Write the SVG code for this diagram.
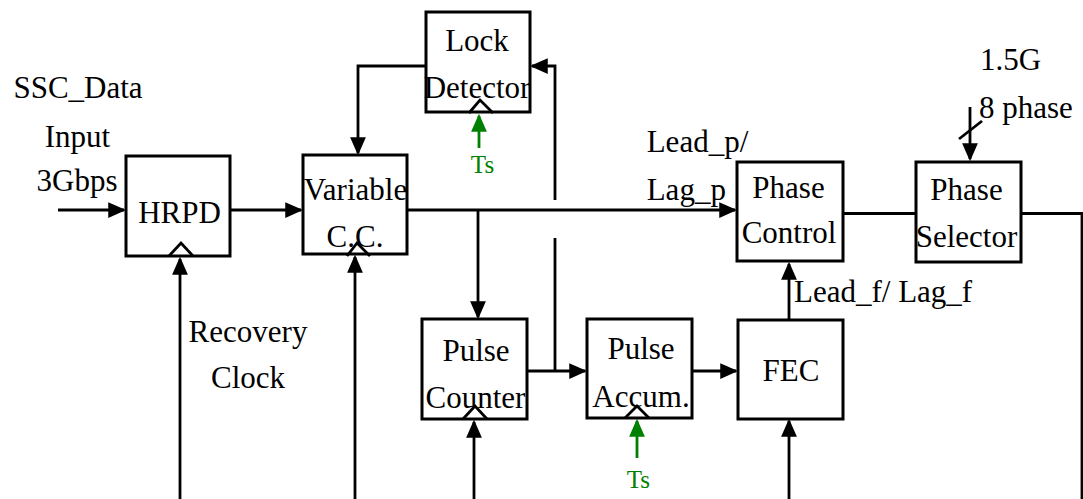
<svg xmlns="http://www.w3.org/2000/svg" width="1083" height="499" viewBox="0 0 1083 499">
<style>
.box{fill:#fff;stroke:#000;stroke-width:3}
.lb{font-family:'Liberation Serif','Times New Roman',serif;font-size:31px;fill:#000}
.mid{text-anchor:middle}
.ts{font-family:'Liberation Serif','Times New Roman',serif;font-size:25px;fill:#008000;text-anchor:middle}
.ln{fill:none;stroke:#000;stroke-width:2.8}
.gl{fill:none;stroke:#008000;stroke-width:2.8}
.clk{fill:none;stroke:#000;stroke-width:2.8}
</style>
<defs>
<marker id="ah" markerUnits="userSpaceOnUse" markerWidth="18" markerHeight="16" viewBox="0 0 16 14" refX="14" refY="7" orient="auto"><path d="M0,0 L16,7 L0,14 z" fill="#000"/></marker>
<marker id="gah" markerUnits="userSpaceOnUse" markerWidth="18" markerHeight="16" viewBox="0 0 16 14" refX="14" refY="7" orient="auto"><path d="M0,0 L16,7 L0,14 z" fill="#008000"/></marker>
</defs>
<rect width="1083" height="499" fill="#fff"/>
<g id="connectors">
<path class="ln" d="M58,210 H124" marker-end="url(#ah)"/>
<path class="ln" d="M230,210 H301" marker-end="url(#ah)"/>
<path class="ln" d="M407,210 H735" marker-end="url(#ah)"/>
<path class="ln" d="M478,210 V317" marker-end="url(#ah)"/>
<path class="ln" d="M527,371 H585" marker-end="url(#ah)"/>
<path class="ln" d="M555,371 V238"/>
<path class="ln" d="M555,200 V66 H532" marker-end="url(#ah)"/>
<path class="ln" d="M426,66 H358 V153" marker-end="url(#ah)"/>
<path class="ln" d="M692,371 H736" marker-end="url(#ah)"/>
<path class="ln" d="M789,320 V264" marker-end="url(#ah)"/>
<path class="ln" d="M843,213.5 H916"/>
<path class="ln" d="M1021,213.5 H1082 V499"/>
<path class="ln" d="M970,107 V159" marker-end="url(#ah)"/>
<path class="ln" d="M959,139 L982,121"/>
<path class="ln" d="M180,499 V259" marker-end="url(#ah)"/>
<path class="ln" d="M355,499 V257" marker-end="url(#ah)"/>
<path class="ln" d="M474,499 V422" marker-end="url(#ah)"/>
<path class="ln" d="M789,499 V421" marker-end="url(#ah)"/>
<path class="gl" d="M479,148 V116" marker-end="url(#gah)"/>
<path class="gl" d="M637,458 V421" marker-end="url(#gah)"/>
</g>
<g id="labels">
<text class="lb mid" x="78" y="98">SSC_Data</text>
<text class="lb mid" x="77.5" y="146.5">Input</text>
<text class="lb mid" x="77" y="191">3Gbps</text>
<text class="lb" x="646.7" y="151.5">Lead_p/</text>
<text class="lb" x="646.7" y="200">Lag_p</text>
<text class="lb" x="980" y="70">1.5G</text>
<text class="lb" x="979" y="118">8 phase</text>
<text class="lb" x="794" y="301.7">Lead_f/ Lag_f</text>
<text class="lb mid" x="248" y="341.7">Recovery</text>
<text class="lb mid" x="248" y="388.3">Clock</text>
<text class="ts" x="482.5" y="172.5">Ts</text>
<text class="ts" x="638.3" y="488.3">Ts</text>
</g>
<g id="hrpd">
<rect class="box" x="126" y="156" width="104" height="100"/>
<text class="lb mid" x="179.5" y="222.5">HRPD</text>
<polyline class="clk" points="169,256 181,243 193,256"/>
</g>
<g id="variable-cc">
<rect class="box" x="303" y="155" width="104" height="99"/>
<text class="lb mid" x="355.5" y="200">Variable</text>
<text class="lb mid" x="355" y="246.5">C.C.</text>
<polyline class="clk" points="347,256 357,243 370,256"/>
</g>
<g id="lock-detector">
<rect class="box" x="426" y="12" width="104" height="100"/>
<text class="lb mid" x="477" y="50.5">Lock</text>
<text class="lb mid" x="477" y="98">Detector</text>
<polyline class="clk" points="469,113 480,100 493,113"/>
</g>
<g id="phase-control">
<rect class="box" x="737" y="162" width="106" height="99"/>
<text class="lb mid" x="788.5" y="198.3">Phase</text>
<text class="lb mid" x="789" y="243.3">Control</text>
</g>
<g id="phase-selector">
<rect class="box" x="916" y="162" width="105" height="100"/>
<text class="lb mid" x="966.5" y="200">Phase</text>
<text class="lb mid" x="966.5" y="246.5">Selector</text>
</g>
<g id="pulse-counter">
<rect class="box" x="422" y="319" width="105" height="100"/>
<text class="lb mid" x="476" y="360.7">Pulse</text>
<text class="lb mid" x="475.5" y="408.3">Counter</text>
<polyline class="clk" points="463,419 475,406 487,419"/>
</g>
<g id="pulse-accum">
<rect class="box" x="587" y="319" width="105" height="99"/>
<text class="lb mid" x="641" y="359.3">Pulse</text>
<text class="lb mid" x="641" y="406.7">Accum.</text>
<polyline class="clk" points="625,418 637,406 649,418"/>
</g>
<g id="fec">
<rect class="box" x="738" y="320" width="105" height="99"/>
<text class="lb mid" x="791" y="380.7">FEC</text>
</g>
</svg>
